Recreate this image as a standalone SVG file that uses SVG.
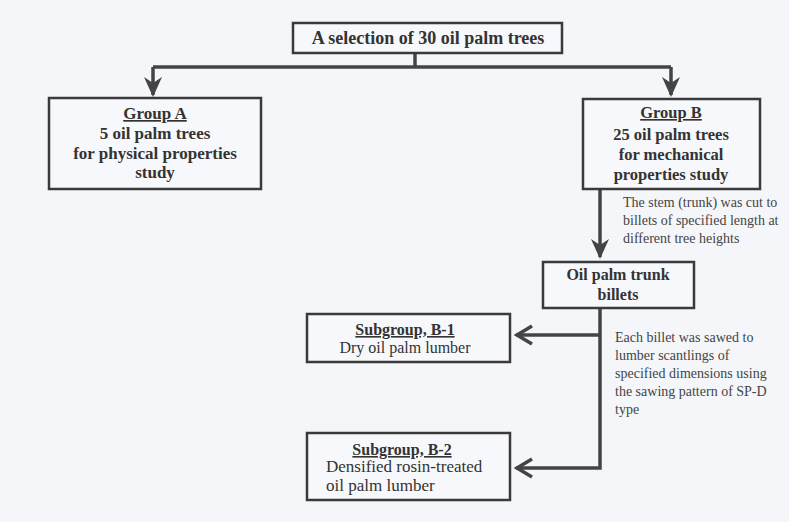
<svg xmlns="http://www.w3.org/2000/svg" width="789" height="522" viewBox="0 0 789 522">
<defs>
<style>
.box{fill:#f7f8fb;stroke:#3a3a3a;stroke-width:2.5}
.ln{fill:none;stroke:#444;stroke-width:3.5}
.b{font-weight:bold;fill:#333;text-anchor:middle}
.r{fill:#333}
.n{fill:#444}
.u{text-decoration:underline}
</style>
<marker id="ah" viewBox="0 0 20 20" refX="18" refY="10" markerWidth="20" markerHeight="20" markerUnits="userSpaceOnUse" orient="auto">
<path d="M0,1 L20,10 L0,19 L6,10 Z" fill="#444"/>
</marker>
</defs>
<rect width="789" height="522" fill="#f4f6fa"/>
<g id="connectors">
<path class="ln" d="M415,53 V67"/>
<path class="ln" d="M153,67 H671"/>
<path class="ln" d="M153,67 V95" marker-end="url(#ah)"/>
<path class="ln" d="M671,67 V95" marker-end="url(#ah)"/>
<path class="ln" d="M600,189 V257" marker-end="url(#ah)"/>
<path class="ln" d="M516,468 H600 V308"/>
<path class="ln" d="M516,335 H600"/>
<path d="M532,326 L517,335 L532,344 M532,459 L517,468 L532,477" fill="none" stroke="#444" stroke-width="3.5"/>
</g>
<g font-family="Liberation Serif, Times New Roman, serif" font-size="16">
<g id="top">
<rect class="box" x="293" y="23" width="269" height="30"/>
<text class="b" x="428" y="44" font-size="18">A selection of 30 oil palm trees</text>
</g>
<g id="groupA" font-size="17">
<rect class="box" x="49" y="98" width="212" height="91"/>
<text class="b" x="155" y="119"><tspan class="u">Group A</tspan></text>
<text class="b" x="155" y="139">5 oil palm trees</text>
<text class="b" x="155" y="159">for physical properties</text>
<text class="b" x="155" y="178">study</text>
</g>
<g id="groupB" font-size="16.5">
<rect class="box" x="583" y="99" width="177" height="90"/>
<text class="b" x="671" y="118"><tspan class="u">Group B</tspan></text>
<text class="b" x="671" y="140">25 oil palm trees</text>
<text class="b" x="671" y="160">for mechanical</text>
<text class="b" x="671" y="180">properties study</text>
</g>
<g id="note1" font-size="14">
<text class="n" x="623" y="207">The stem (trunk) was cut to</text>
<text class="n" x="623" y="225">billets of specified length at</text>
<text class="n" x="623" y="243">different tree heights</text>
</g>
<g id="billets">
<rect class="box" x="543" y="262" width="151" height="46"/>
<text class="b" x="618" y="280">Oil palm trunk</text>
<text class="b" x="618" y="300">billets</text>
</g>
<g id="note2" font-size="14">
<text class="n" x="615" y="342">Each billet was sawed to</text>
<text class="n" x="615" y="360">lumber scantlings of</text>
<text class="n" x="615" y="378">specified dimensions using</text>
<text class="n" x="615" y="396">the sawing pattern of SP-D</text>
<text class="n" x="615" y="414">type</text>
</g>
<g id="subB1">
<rect class="box" x="307" y="314" width="203" height="48"/>
<text class="b" x="405" y="335"><tspan class="u">Subgroup, B-1</tspan></text>
<text class="r" x="405" y="353" text-anchor="middle">Dry oil palm lumber</text>
</g>
<g id="subB2">
<rect class="box" x="307" y="433" width="203" height="67"/>
<text class="b" x="402" y="455"><tspan class="u">Subgroup, B-2</tspan></text>
<text class="r" x="326" y="472" font-size="17">Densified rosin-treated</text>
<text class="r" x="326" y="491" font-size="17">oil palm lumber</text>
</g>
</g>
</svg>
